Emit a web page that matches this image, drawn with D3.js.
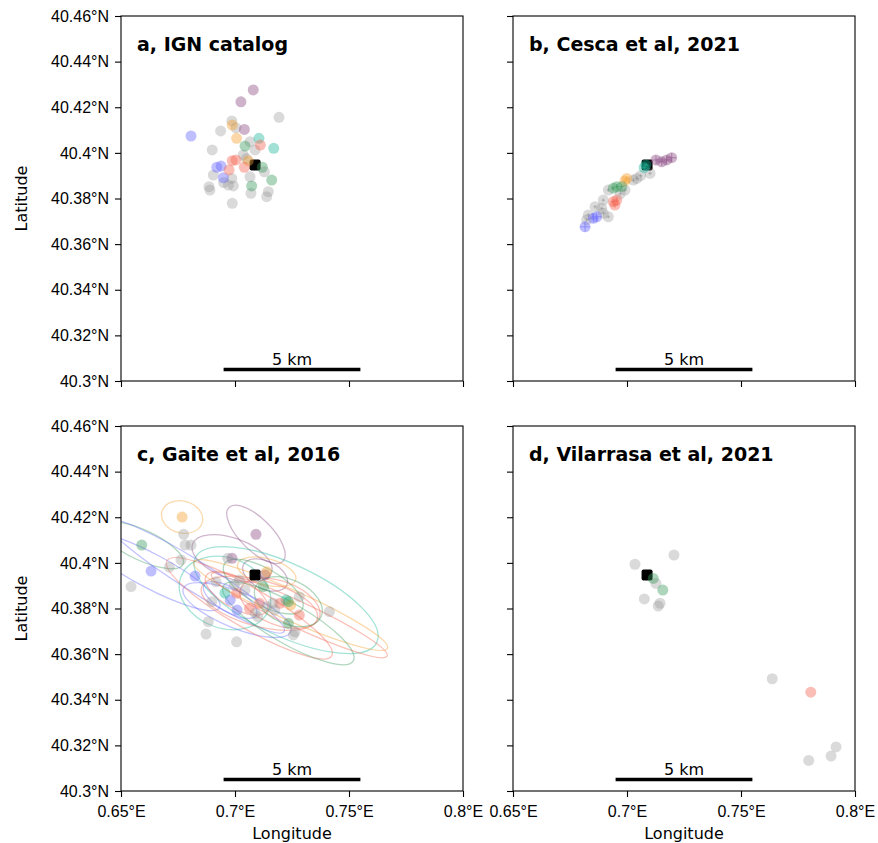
<!DOCTYPE html>
<html>
<head>
<meta charset="utf-8">
<script src="https://cdn.jsdelivr.net/npm/d3@7"></script>
<style>
  body { margin: 0; background: #fff; }
  svg { font-family: "DejaVu Sans", sans-serif; }
  .tick text { font-size: 16px; fill: #000; }
  .tick line { stroke: #000; stroke-width: 1.1; }
</style>
</head>
<body>
<svg id="chart" width="878" height="843"></svg>
<script>
// ---- data ----
var lonTicks = [0.65, 0.7, 0.75, 0.8];
var latTicks = [40.3, 40.32, 40.34, 40.36, 40.38, 40.4, 40.42, 40.44, 40.46];
var titles = ["a, IGN catalog", "b, Cesca et al, 2021", "c, Gaite et al, 2016", "d, Vilarrasa et al, 2021"];
var wellLon = 0.7088, wellLat = 40.3947;   // black square
var scaleBarLon = [0.695, 0.755], scaleBarLat = 40.305, scaleBarText = "5 km";

// a, IGN catalog
var aLon = [0.7193, 0.6986, 0.6937, 0.7066, 0.6900, 0.7088, 0.7036, 0.6905, 0.7066, 0.7129,
            0.6986, 0.6886, 0.6890, 0.6971, 0.6993, 0.7070, 0.7146, 0.7139, 0.6988, 0.7004,
            0.7050, 0.6950,
            0.7080, 0.7026, 0.7041,
            0.6807, 0.6939, 0.6920, 0.6949,
            0.6988, 0.7007, 0.7058,
            0.7105, 0.7170,
            0.7111, 0.6988, 0.7004, 0.7041, 0.6974,
            0.7044, 0.7120, 0.7161, 0.7073];
var aLat = [40.4156, 40.4140, 40.4096, 40.4049, 40.4013, 40.4013, 40.3991, 40.3903, 40.3895, 40.3917,
            40.3888, 40.3852, 40.3837, 40.3859, 40.3855, 40.3823, 40.3830, 40.3808, 40.3779, 40.4110,
            40.3975, 40.3870,
            40.4276, 40.4224, 40.4103,
            40.4074, 40.3942, 40.3937, 40.3891,
            40.4122, 40.4064, 40.3966,
            40.4064, 40.4020,
            40.4034, 40.3966, 40.3969, 40.3937, 40.3925,
            40.4030, 40.3937, 40.3881, 40.3855];
var aCat = ["grey", "grey", "grey", "grey", "grey", "grey", "grey", "grey", "grey", "grey",
            "grey", "grey", "grey", "grey", "grey", "grey", "grey", "grey", "grey", "grey",
            "grey", "grey",
            "purple", "purple", "purple",
            "blue", "blue", "blue", "blue",
            "orange", "orange", "orange",
            "teal", "teal",
            "red", "red", "red", "red", "red",
            "green", "green", "green", "green"];

// b, Cesca et al, 2021 (with location errors in degrees)
var bLon = [0.7101, 0.7043, 0.7028, 0.6918, 0.6991, 0.6896, 0.6889, 0.6860, 0.6830, 0.6823,
            0.6896, 0.6918, 0.6970, 0.7060,
            0.7127, 0.7152, 0.7174, 0.7196,
            0.7083, 0.7075,
            0.6999, 0.6991,
            0.6955, 0.6940, 0.6977,
            0.6955, 0.6940, 0.6947,
            0.6852, 0.6867, 0.6816];
var bLat = [40.3910, 40.3888, 40.3881, 40.3837, 40.3837, 40.3793, 40.3757, 40.3764, 40.3728, 40.3706,
            40.3735, 40.3720, 40.3820, 40.3900,
            40.3969, 40.3961, 40.3969, 40.3979,
            40.3947, 40.3935,
            40.3888, 40.3877,
            40.3852, 40.3845, 40.3852,
            40.3793, 40.3786, 40.3771,
            40.3713, 40.3720, 40.3676];
var bCat = ["grey", "grey", "grey", "grey", "grey", "grey", "grey", "grey", "grey", "grey",
            "grey", "grey", "grey", "grey",
            "purple", "purple", "purple", "purple",
            "teal", "teal",
            "orange", "orange",
            "green", "green", "green",
            "red", "red", "red",
            "blue", "blue", "blue"];
var bErr = [0.0008, 0.0008, 0.0008, 0.0008, 0.0008, 0.0008, 0.0008, 0.0008, 0.0008, 0.0008,
            0.0008, 0.0008, 0.0008, 0.0008,
            0.0020, 0.0018, 0.0020, 0.0020,
            0.0010, 0.0010,
            0.0010, 0.0010,
            0.0010, 0.0010, 0.0010,
            0.0012, 0.0012, 0.0012,
            0.0020, 0.0020, 0.0022];

// c, Gaite et al, 2016 (with error ellipses: semi-axes in degrees, tilt in degrees below east)
var cLon = [0.6768, 0.6591, 0.7092, 0.6987, 0.7132, 0.7139, 0.6632, 0.6825, 0.7009, 0.6979,
            0.7224, 0.6956, 0.7244, 0.7282, 0.7107, 0.7063, 0.7197, 0.7007, 0.7234, 0.7234, 0.7124,
            0.6775, 0.6781, 0.6807, 0.6763, 0.6712, 0.6544, 0.6917, 0.6968, 0.6898, 0.6883,
            0.6873, 0.7007, 0.7100, 0.6997, 0.7019, 0.7088, 0.7139, 0.7175, 0.7167, 0.7282,
            0.7256, 0.7263, 0.7414, 0.7044];
var cLat = [40.4201, 40.4078, 40.4125, 40.4020, 40.3947, 40.3961, 40.3964, 40.3942, 40.3793, 40.3837,
            40.3837, 40.3868, 40.3815, 40.3771, 40.3823, 40.3801, 40.3823, 40.3867, 40.3735, 40.3830, 40.3896,
            40.4125, 40.4078, 40.4078, 40.4013, 40.3981, 40.3896, 40.3917, 40.4020, 40.3830, 40.3742,
            40.3688, 40.3654, 40.3764, 40.3903, 40.3925, 40.3779, 40.3808, 40.3793, 40.3824, 40.3852,
            40.3684, 40.3698, 40.3786, 40.3881];
var cCat = ["orange", "green", "purple", "purple", "purple", "orange", "blue", "blue", "blue", "blue",
            "teal", "teal", "orange", "red", "red", "red", "red", "red", "green", "green", "green",
            "grey", "grey", "grey", "grey", "grey", "grey", "grey", "grey", "grey", "grey",
            "grey", "grey", "grey", "grey", "grey", "grey", "grey", "grey", "grey", "grey",
            "grey", "grey", "grey", "grey"];
var cMaj = [0.0092, 0.0200, 0.0167, 0.0184, 0.0105, 0.0132, 0.0340, 0.0460, 0.0254, 0.0132,
            0.0439, 0.0206, 0.0465, 0.0425, 0.0263, 0.0417, 0.0184, 0.0154, 0.0329, 0.0158, 0.0197];
var cMin = [0.0070, 0.0066, 0.0070, 0.0088, 0.0061, 0.0057, 0.0075, 0.0066, 0.0079, 0.0053,
            0.0158, 0.0154, 0.0066, 0.0057, 0.0101, 0.0088, 0.0096, 0.0066, 0.0088, 0.0096, 0.0079];
var cTilt = [15, 25, 45, 20, 25, 15, 28, 32, 22, 30,
             25, 20, 24, 25, 15, 30, 20, 30, 30, 25, 30];

// d, Vilarrasa et al, 2021
var dLon = [0.7035, 0.7127, 0.7206, 0.7076, 0.7145, 0.7137, 0.7637, 0.7917, 0.7895, 0.7797,
            0.7115, 0.7157, 0.7806];
var dLat = [40.3994, 40.3910, 40.4034, 40.3842, 40.3823, 40.3811, 40.3492, 40.3193, 40.3153, 40.3134,
            40.3932, 40.3881, 40.3433];
var dCat = ["grey", "grey", "grey", "grey", "grey", "grey", "grey", "grey", "grey", "grey",
            "green", "green", "red"];

var catColor = {
    grey: "#8f8f8f", purple: "#8a4a84", blue: "#6666ff", orange: "#f5a030",
    teal: "#1fb89a", red: "#f26450", green: "#3c9a5c"
};

// ---- layout ----
var svg = d3.select("#chart");
var cols = [[121, 463], [513, 855]];
var rows = [[381, 16], [791, 426]];

function pack(lon, lat, cat, extra) {
    return lon.map(function(d, i) {
        var p = {lon: d, lat: lat[i], cat: cat[i]};
        if (extra) {
            for (var k in extra) p[k] = extra[k][i];
        }
        return p;
    });
}

var panels = [
    {col: 0, row: 0, pts: pack(aLon, aLat, aCat)},
    {col: 1, row: 0, pts: pack(bLon, bLat, bCat, {err: bErr})},
    {col: 0, row: 1, pts: pack(cLon, cLat, cCat, {maj: cMaj, min: cMin, tilt: cTilt})},
    {col: 1, row: 1, pts: pack(dLon, dLat, dCat)}
];

function fmt(d) { return String(parseFloat(d.toFixed(2))); }

function draw_panel(p, idx) {
    var x = d3.scaleLinear().domain([0.65, 0.8]).range(cols[p.col]);
    var y = d3.scaleLinear().domain([40.3, 40.46]).range(rows[p.row]);
    var x0 = cols[p.col][0], x1 = cols[p.col][1];
    var y0 = rows[p.row][1], y1 = rows[p.row][0];
    var g = svg.append("g");

    g.append("clipPath").attr("id", "clip" + idx)
        .append("rect").attr("x", x0).attr("y", y0)
        .attr("width", x1 - x0).attr("height", y1 - y0);
    var inner = g.append("g").attr("clip-path", "url(#clip" + idx + ")");

    // error ellipses
    inner.selectAll("ellipse").data(p.pts.filter(function(d) { return d.maj; }))
        .enter().append("ellipse")
        .attr("transform", function(d) {
            return "translate(" + x(d.lon) + "," + y(d.lat) + ") rotate(" + d.tilt + ")";
        })
        .attr("rx", function(d) { return x(0.65 + d.maj) - x(0.65); })
        .attr("ry", function(d) { return y(40.3) - y(40.3 + d.min); })
        .attr("fill", "none")
        .attr("stroke", function(d) { return catColor[d.cat]; })
        .attr("stroke-opacity", 0.4)
        .attr("stroke-width", 1.3);

    // well
    var s = 11;
    inner.append("rect")
        .attr("x", x(wellLon) - s / 2).attr("y", y(wellLat) - s / 2)
        .attr("width", s).attr("height", s).attr("rx", 2)
        .attr("fill", "#000");

    // error bars (panel b)
    var withErr = p.pts.filter(function(d) { return d.err; });
    var eb = inner.selectAll("g.eb").data(withErr).enter().append("g")
        .attr("stroke", function(d) { return catColor[d.cat]; })
        .attr("stroke-opacity", 0.45).attr("stroke-width", 1.2);
    eb.append("line")
        .attr("x1", function(d) { return x(d.lon - d.err); })
        .attr("x2", function(d) { return x(d.lon + d.err); })
        .attr("y1", function(d) { return y(d.lat); })
        .attr("y2", function(d) { return y(d.lat); });
    eb.append("line")
        .attr("x1", function(d) { return x(d.lon); })
        .attr("x2", function(d) { return x(d.lon); })
        .attr("y1", function(d) { return y(d.lat - d.err); })
        .attr("y2", function(d) { return y(d.lat + d.err); });

    // events
    inner.selectAll("circle").data(p.pts).enter().append("circle")
        .attr("cx", function(d) { return x(d.lon); })
        .attr("cy", function(d) { return y(d.lat); })
        .attr("r", 5.5)
        .attr("fill", function(d) { return catColor[d.cat]; })
        .attr("fill-opacity", function(d) { return d.cat == "grey" ? 0.33 : 0.42; });

    // scale bar
    g.append("line")
        .attr("x1", x(scaleBarLon[0])).attr("x2", x(scaleBarLon[1]))
        .attr("y1", y(scaleBarLat)).attr("y2", y(scaleBarLat))
        .attr("stroke", "#000").attr("stroke-width", 3.5);
    g.append("text")
        .attr("x", x((scaleBarLon[0] + scaleBarLon[1]) / 2))
        .attr("y", y(scaleBarLat) - 4.5)
        .attr("text-anchor", "middle").attr("font-size", 16)
        .text(scaleBarText);

    // axes
    var xa = d3.axisBottom(x).tickValues(lonTicks).tickSize(6).tickSizeOuter(0).tickPadding(5)
        .tickFormat(p.row == 1 ? function(d) { return fmt(d) + "°E"; } : "");
    var ya = d3.axisLeft(y).tickValues(latTicks).tickSize(6).tickSizeOuter(0).tickPadding(6)
        .tickFormat(p.col == 0 ? function(d) { return fmt(d) + "°N"; } : "");
    var gx = g.append("g").attr("transform", "translate(0," + y1 + ")").call(xa);
    var gy = g.append("g").attr("transform", "translate(" + x0 + ",0)").call(ya);
    gx.select(".domain").remove();
    gy.select(".domain").remove();
    gx.selectAll(".tick text").attr("dy", "0.95em");

    g.append("rect")
        .attr("x", x0).attr("y", y0).attr("width", x1 - x0).attr("height", y1 - y0)
        .attr("fill", "none").attr("stroke", "#000").attr("stroke-width", 1.1);

    g.append("text")
        .attr("x", x0 + 16).attr("y", y0 + 35)
        .attr("font-size", 19).attr("font-weight", "bold")
        .text(titles[idx]);

    if (p.col == 0) {
        g.append("text")
            .attr("transform", "translate(27," + (y0 + y1) / 2 + ") rotate(-90)")
            .attr("text-anchor", "middle").attr("font-size", 16)
            .text("Latitude");
    }
    if (p.row == 1) {
        g.append("text")
            .attr("x", (x0 + x1) / 2).attr("y", y1 + 48)
            .attr("text-anchor", "middle").attr("font-size", 16)
            .text("Longitude");
    }
}

panels.forEach(draw_panel);
</script>
</body>
</html>
